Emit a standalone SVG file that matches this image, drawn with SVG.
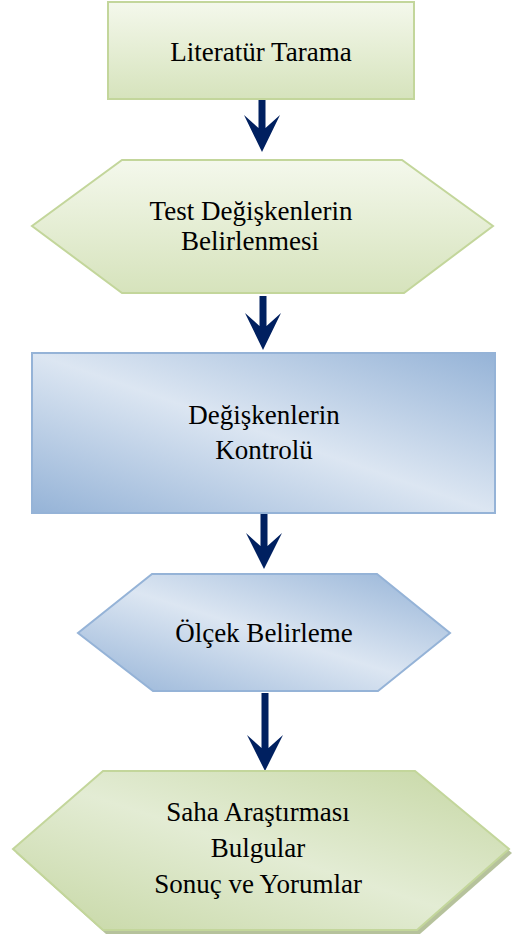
<svg xmlns="http://www.w3.org/2000/svg" width="512" height="938" viewBox="0 0 512 938">
<defs>
<linearGradient id="gV" x1="0" y1="0" x2="0" y2="1">
<stop offset="0" stop-color="#f4f8ec"/>
<stop offset="1" stop-color="#d6e3bc"/>
</linearGradient>
<linearGradient id="bD" x1="0" y1="1" x2="1" y2="0">
<stop offset="0" stop-color="#95b3d7"/>
<stop offset="0.5" stop-color="#dce6f2"/>
<stop offset="1" stop-color="#95b3d7"/>
</linearGradient>
<linearGradient id="gD" x1="0" y1="1" x2="1" y2="0">
<stop offset="0" stop-color="#c6d7a4"/>
<stop offset="0.5" stop-color="#e3ecd4"/>
<stop offset="1" stop-color="#c6d7a4"/>
</linearGradient>
<style>
.t{font-family:'Liberation Serif','Times New Roman',serif;font-size:27px;fill:#000;text-anchor:middle}
.g{stroke:#c3d69b;stroke-width:2}
.b{stroke:#95b3d7;stroke-width:2}
.arr{fill:#002060}
</style>
</defs>
<g id="connectors">
<path class="arr" d="M258.5,99 H265.5 V128 L280,115 L262,152 L244,115 L258.5,128 Z"/>
<path class="arr" d="M259.5,296 H266.5 V326 L281,313 L263,350 L245,313 L259.5,326 Z"/>
<path class="arr" d="M260.5,513 H267.5 V546 L282,533 L264,569 L246,533 L260.5,546 Z"/>
<path class="arr" d="M261.5,693 H268.5 V748 L283,735 L265,771 L247,735 L261.5,748 Z"/>
</g>
<g id="n1">
<rect class="g" x="108" y="2" width="306" height="97" fill="url(#gV)"/>
<text class="t" x="261" y="61">Literatür Tarama</text>
</g>
<g id="n2">
<polygon class="g" points="122,160 402,160 493,226 404,293 122,293 32,226" fill="url(#gV)"/>
<text class="t" x="251" y="220">Test Değişkenlerin</text>
<text class="t" x="250" y="250">Belirlenmesi</text>
</g>
<g id="n3">
<rect class="b" x="32" y="353" width="463" height="160" fill="url(#bD)"/>
<text class="t" x="264" y="424">Değişkenlerin</text>
<text class="t" x="264" y="459">Kontrolü</text>
</g>
<g id="n4">
<polygon class="b" points="152,574 377,574 450,633 378,691 153,691 78,633" fill="url(#bD)"/>
<text class="t" x="264" y="642">Ölçek Belirleme</text>
</g>
<g id="n5">
<polygon points="106,775 418,775 512,853 420,934 106,934 16,853" fill="#97a872" opacity="0.7"/>
<polygon points="103,771 415,771 509,849 417,930 103,930 13,849" fill="url(#gD)" stroke="#c3d69b" stroke-width="2"/>
<text class="t" x="258" y="821">Saha Araştırması</text>
<text class="t" x="258" y="857">Bulgular</text>
<text class="t" x="258" y="893">Sonuç ve Yorumlar</text>
</g>
</svg>
